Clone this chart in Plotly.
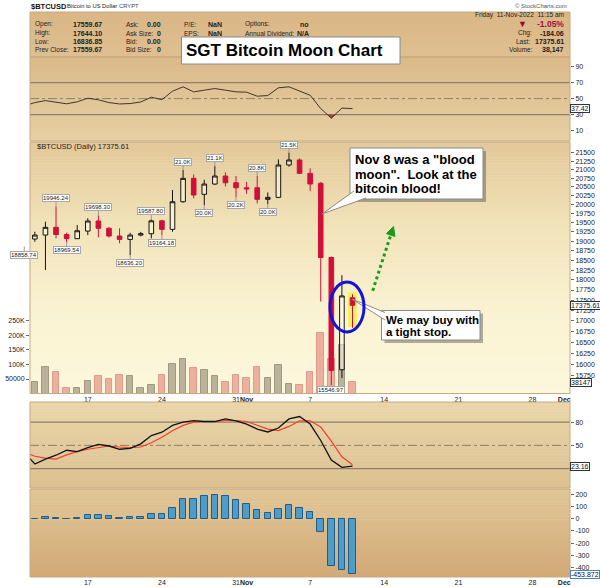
import math
from datetime import datetime, timedelta
import plotly.graph_objects as go

W, H = 600, 587
PL, PR = 30, 570
FONT = "Liberation Sans, Arial, sans-serif"

# ---------------- data ----------------
dates = ["2022-10-11", "2022-10-12", "2022-10-13", "2022-10-14", "2022-10-15", "2022-10-16",
         "2022-10-17", "2022-10-18", "2022-10-19", "2022-10-20", "2022-10-21", "2022-10-22",
         "2022-10-23", "2022-10-24", "2022-10-25", "2022-10-26", "2022-10-27", "2022-10-28",
         "2022-10-29", "2022-10-30", "2022-10-31", "2022-11-01", "2022-11-02", "2022-11-03",
         "2022-11-04", "2022-11-05", "2022-11-06", "2022-11-07", "2022-11-08", "2022-11-09",
         "2022-11-10", "2022-11-11"]
opens = [19130, 19060, 19165, 19373, 19180, 19068, 19272, 19545, 19346, 19140, 19050, 19165,
         19200, 19550, 19319, 20078, 20744, 20287, 20580, 20812, 20618, 20474, 20474, 20145,
         20200, 21134, 21283, 20890, 20601, 18575, 15880, 17559.67]
highs = [19260, 19254, 19525, 19946.24, 19227, 19435, 19620, 19698.30, 19380, 19346, 19227, 19250,
         19587.80, 19580, 20409, 20986, 20856, 20704, 21101, 20918, 20812, 20640, 20820, 20340,
         21300, 21500, 21330, 21034, 20640, 18600, 18123, 17644.10]
lows = [18858.74, 18987, 18251, 19077, 18969.54, 19060, 19165, 19104, 19100, 18945, 18636.20, 19130,
        19077, 19164.18, 19254, 20050, 20173, 19980, 20550, 20510, 20200, 20300, 20030, 20010,
        20180, 21085, 20870, 20380, 17467, 15546.97, 15700, 16836.85]
closes = [19060, 19165, 19373, 19180, 19068, 19281, 19545, 19346, 19140, 19050, 19165, 19201,
          19550, 19319, 20078, 20744, 20267, 20580, 20812, 20618, 20474, 20440, 20145, 20200,
          21134, 21283, 20890, 20580, 18575, 15863, 17604, 17375.61]
volumes = [45000, 38000, 90000, 75000, 18000, 18000, 42000, 61000, 50000, 65000, 62000, 18000,
           31000, 65000, 103000, 118000, 87000, 80000, 60000, 40000, 63000, 52000, 92000, 55000,
           98000, 33000, 30000, 75000, 209000, 120000, 167000, 38147]
rsi = [41, 45, 47.5, 45.5, 43.5, 46, 50.5, 48.5, 45, 43.3, 43.8, 45.8,
       51.7, 48.7, 59.3, 64.7, 58.4, 60.5, 62.6, 60.5, 58.4, 58, 53, 53.8,
       63.5, 64.7, 59.5, 54.2, 37.5, 25.6, 38.2, 37.42]
stoch_k = [41, 26, 32.3, 37.3, 43.7, 42, 47, 51.3, 49.2, 45, 46.2, 52,
           62.7, 67, 75.8, 80, 82, 80.8, 80.8, 84.2, 81.7, 77.5, 71, 67.3,
           72.4, 84.2, 87.2, 77.5, 56.3, 31, 21.7, 23.16]
stoch_d = [41, 36, 33.5, 32.3, 37.7, 42, 45, 47, 49.2, 47.9, 47, 47.9,
           53.4, 60.6, 69, 75.8, 80, 80.8, 80.8, 82.1, 82.1, 80.8, 75.8, 71,
           69, 74.5, 81.7, 81.7, 73.7, 55.5, 35.2, 25]
macd_hist = [-5, -3, 10, 5, -5, 3, 29, 29, 18, 3, 10, 16,
             42, 40, 87, 159, 161, 183, 196, 183, 153, 122, 74, 48,
             82, 111, 90, 58, -108, -385, -420, -453.872]

x_tickvals = ["2022-10-17", "2022-10-24", "2022-10-31", "2022-11-01", "2022-11-07",
              "2022-11-14", "2022-11-21", "2022-11-28", "2022-12-01"]
x_ticktext = ["17", "24", "31", "<b>Nov</b>", "7", "14", "21", "28", "<b>Dec</b>"]
price_ticks = list(range(15750, 21501, 250))
vol_ticks = [50000, 100000, 150000, 200000, 250000]
vol_ticktext = ["50000", "100K", "150K", "200K", "250K"]
rsi_ticks = [10, 30, 50, 70, 90]
stoch_ticks = [50, 80]
macd_ticks = [-400, -300, -200, -100, 0, 100, 200]
macd_ticktext = ["-400", "-300", "-200", "-100", "0", "100", "200"]

# high / low labels: (date, kind, text)
hl_labels = [("2022-10-11", "low", "18858.74"), ("2022-10-14", "high", "19946.24"),
             ("2022-10-15", "low", "18969.54"), ("2022-10-18", "high", "19698.30"),
             ("2022-10-21", "low", "18636.20"), ("2022-10-23", "high", "19587.80"),
             ("2022-10-24", "low", "19164.18"), ("2022-10-26", "high", "21.0K"),
             ("2022-10-28", "low", "20.0K"), ("2022-10-29", "high", "21.1K"),
             ("2022-10-31", "low", "20.2K"), ("2022-11-02", "high", "20.8K"),
             ("2022-11-03", "low", "20.0K"), ("2022-11-05", "high", "21.5K"),
             ("2022-11-09", "low", "15546.97")]

X_RANGE = ["2022-10-11 13:00", "2022-12-01 13:00"]
PRICE_RANGE = [15362, 21824]
VOL_MAX = 867000
RSI_RANGE = [-3, 102]
STOCH_RANGE = [-5, 106]
MACD_RANGE = [-478, 243]

# panels (pixel top, bottom)
HEADER = (12, 57)
RSI_P = (57, 141)
MAIN = (142, 393.5)
STO = (402, 488)
MACD_P = (489, 577)

NB = "\u00a0"

# ---------------- helpers ----------------
def X(p):
    return (p - PL) / (PR - PL)

def Y(p):
    return 1 - p / H

def dom(panel):
    return [Y(panel[1]), Y(panel[0])]

def hex2rgb(h):
    h = h.lstrip('#')
    return tuple(int(h[i:i + 2], 16) for i in (0, 2, 4))

def color_at(stops, t):
    for (p0, c0), (p1, c1) in zip(stops, stops[1:]):
        if t <= p1:
            f = (t - p0) / (p1 - p0) if p1 > p0 else 0
            a, b = hex2rgb(c0), hex2rgb(c1)
            return 'rgb(%d,%d,%d)' % tuple(round(a[i] + (b[i] - a[i]) * f) for i in range(3))
    return stops[-1][1]

shapes = []
annotations = []

def gradient(panel, stops):
    top, bot = panel
    n = max(8, int((bot - top) / 3))
    for i in range(n):
        y0 = top + (bot - top) * i / n
        y1 = top + (bot - top) * (i + 1) / n
        shapes.append(dict(type='rect', xref='paper', yref='paper', x0=0, x1=1,
                           y0=Y(min(bot, y1 + 0.5)), y1=Y(y0),
                           fillcolor=color_at(stops, (i + 0.5) / n),
                           line=dict(width=0), layer='below'))

def outline(panel, color='#c6a97e'):
    shapes.append(dict(type='rect', xref='paper', yref='paper', x0=0, x1=1,
                       y0=Y(panel[1]), y1=Y(panel[0]), line=dict(color=color, width=1),
                       fillcolor='rgba(0,0,0,0)', layer='above'))

def txt(x, y, s, size=6.5, bold=False, color='#222', anchor='left'):
    annotations.append(dict(xref='paper', yref='paper', x=X(x), y=Y(y),
                            text=('<b>%s</b>' % s) if bold else s, showarrow=False,
                            xanchor=anchor, yanchor='middle',
                            font=dict(family=FONT, size=size, color=color)))

dts = [datetime.strptime(d, "%Y-%m-%d") for d in dates]
r0 = datetime.strptime(X_RANGE[0], "%Y-%m-%d %H:%M")
r1 = datetime.strptime(X_RANGE[1], "%Y-%m-%d %H:%M")

def date_paper(d):
    return (d - r0).total_seconds() / (r1 - r0).total_seconds()

# ---------------- backgrounds ----------------
gradient(HEADER, [(0, '#dab686'), (1, '#dfbf90')])
gradient(RSI_P, [(0, '#dbb989'), (1, '#e6d0a3')])
gradient(MAIN, [(0, '#e3c898'), (0.35, '#f2e4bb'), (0.7, '#faf3d3'), (1, '#fcf8dc')])
gradient(STO, [(0, '#ead6aa'), (1, '#dcc090')])
gradient(MACD_P, [(0, '#e1c696'), (1, '#d2a977')])

# yellow highlight behind last candle
shapes.append(dict(type='rect', xref='paper', yref='paper', x0=X(348), x1=X(357),
                   y0=Y(327), y1=Y(292), fillcolor='#f7f064', line=dict(width=0), layer='below'))

# reference lines
LINE_C = '#8d7f6c'
for lv in (30, 70):
    shapes.append(dict(type='line', xref='x domain', yref='y', x0=0, x1=1, y0=lv, y1=lv,
                       line=dict(color=LINE_C, width=1.3), layer='below'))
shapes.append(dict(type='line', xref='x domain', yref='y', x0=0, x1=1, y0=50, y1=50,
                   line=dict(color=LINE_C, width=1, dash='dashdot'), layer='below'))
for lv in (20, 80):
    shapes.append(dict(type='line', xref='x3 domain', yref='y4', x0=0, x1=1, y0=lv, y1=lv,
                       line=dict(color=LINE_C, width=1.3), layer='below'))
shapes.append(dict(type='line', xref='x3 domain', yref='y4', x0=0, x1=1, y0=50, y1=50,
                   line=dict(color=LINE_C, width=1, dash='dashdot'), layer='below'))

for p in (HEADER, RSI_P, MAIN, STO, MACD_P):
    outline(p)

# ---------------- traces ----------------
fig = go.Figure()

# RSI
fig.add_trace(go.Scatter(x=dates, y=rsi, mode='lines', xaxis='x', yaxis='y',
                         line=dict(color='#3d3630', width=1), hoverinfo='skip'))
poly = []
for i in range(len(rsi) - 1):
    a, b = rsi[i], rsi[i + 1]
    if a < 30:
        poly.append((dts[i], a))
    if (a - 30) * (b - 30) < 0:
        f = (30 - a) / (b - a)
        poly.append((dts[i] + (dts[i + 1] - dts[i]) * f, 30))
if rsi[-1] < 30:
    poly.append((dts[-1], rsi[-1]))
if poly:
    fig.add_trace(go.Scatter(x=[p[0] for p in poly], y=[p[1] for p in poly], mode='lines',
                             fill='toself', fillcolor='#9a4b3a', xaxis='x', yaxis='y',
                             line=dict(color='#5a3028', width=1), hoverinfo='skip'))

# volume
up = [c >= o for o, c in zip(opens, closes)]
fig.add_trace(go.Bar(x=dates, y=volumes, xaxis='x2', yaxis='y2',
                     width=0.62 * 86400000,
                     marker=dict(color=['#b3ab93' if u else '#eaa898' for u in up],
                                 line=dict(color=['#968e78' if u else '#df8f84' for u in up], width=1)),
                     opacity=0.9, hoverinfo='skip'))

# candles
fig.add_trace(go.Candlestick(x=dates, open=opens, high=highs, low=lows, close=closes,
                             xaxis='x2', yaxis='y3', whiskerwidth=0,
                             increasing=dict(line=dict(color='#151515', width=1),
                                             fillcolor='rgba(255,252,232,0.55)'),
                             decreasing=dict(line=dict(color='#d0103a', width=1),
                                             fillcolor='#d0103a'),
                             hoverinfo='skip'))

# stochastics
fig.add_trace(go.Scatter(x=dates, y=stoch_d, mode='lines', xaxis='x3', yaxis='y4',
                         line=dict(color='#f0402e', width=1.2), hoverinfo='skip'))
fig.add_trace(go.Scatter(x=dates, y=stoch_k, mode='lines', xaxis='x3', yaxis='y4',
                         line=dict(color='#111111', width=1.3), hoverinfo='skip'))

# MACD histogram
fig.add_trace(go.Bar(x=dates, y=macd_hist, xaxis='x4', yaxis='y5', width=0.62 * 86400000,
                     marker=dict(color='#4f9cc8', line=dict(color='#1d5e8a', width=1)),
                     hoverinfo='skip'))

# ---------------- annotations ----------------
# header line
txt(29, 6, '$BTCUSD', size=7.5, bold=True, color='#111')
txt(65, 6, 'Bitcoin to US Dollar', size=5.8, color='#222')
txt(117, 6, 'CRYPT', size=5.8, color='#444')
txt(569, 6, '© StockCharts.com', size=6, color='#555', anchor='right')

rows = [24, 33, 41.5, 50]
for lab, val, y in zip(['Open:', 'High:', 'Low:', 'Prev' + NB + 'Close:'],
                       ['17559.67', '17644.10', '16836.85', '17559.67'], rows):
    txt(33, y, lab)
    txt(71, y, val, size=7, bold=True)
for lab, val, vx, y in zip(['Ask:', 'Ask' + NB + 'Size:', 'Bid:', 'Bid' + NB + 'Size:'],
                           ['0.00', '0', '0.00', '0'], [145, 155, 145, 155], rows):
    txt(124, y, lab)
    txt(vx, y, val, size=7, bold=True)
for lab, val, y in zip(['P/E:', 'EPS:'], ['NaN', 'NaN'], rows[:2]):
    txt(182, y, lab)
    txt(206, y, val, size=7, bold=True)
txt(243, rows[0], 'Options:')
txt(298, rows[0], 'no', size=7, bold=True)
txt(243, rows[1], 'Annual' + NB + 'Dividend:')
txt(295, rows[1], 'N/A', size=7, bold=True)

txt(566, 15, 'Friday' + NB * 2 + '11-Nov-2022' + NB * 2 + '11:15 am', size=6.5, anchor='right')
txt(522, 24, '▼', size=9, color='#8c0a2a', anchor='center')
txt(566, 24, '-1.05%', size=8.5, bold=True, color='#a0103a', anchor='right')
txt(516, 33, 'Chg:')
txt(566, 33, '-184.06', size=7, bold=True, anchor='right')
txt(514, 41.5, 'Last:')
txt(566, 41.5, '17375.61', size=7, bold=True, anchor='right')
txt(507, 50, 'Volume:')
txt(566, 50, '38,147', size=7, bold=True, anchor='right')

# main panel title
txt(35, 147, '$BTCUSD (Daily) 17375.61', size=7.5, color='#222')

# high / low labels
for d, kind, text in hl_labels:
    i = dates.index(d)
    val = highs[i] if kind == 'high' else lows[i]
    xd = datetime.strptime(d, "%Y-%m-%d")
    off = -8 if kind == 'high' else 8
    if d == "2022-11-09":
        off = 5
    ann = dict(y=math.log10(val), yref='y3', text=text, showarrow=True, arrowhead=0,
               arrowwidth=1, arrowcolor='#9a9a9a', ax=0, ay=off, standoff=0,
               font=dict(family=FONT, size=6, color='#222'), bgcolor='white',
               bordercolor='#a8a8a8', borderwidth=1, borderpad=0)
    if xd < r0:
        ann.update(xref='paper', x=date_paper(xd))
    else:
        ann.update(xref='x2', x=d)
    annotations.append(ann)

# value boxes on right axis
def value_box(yref, y, text, border='#333'):
    annotations.append(dict(xref='paper', x=1.0, xanchor='left', yref=yref, y=y, text=text,
                            showarrow=False, font=dict(family=FONT, size=7, color='#111'),
                            bgcolor='white', bordercolor=border, borderwidth=1, borderpad=0))

value_box('y', rsi[-1], '37.42')
value_box('y3', math.log10(closes[-1]), '17375.61')
value_box('y2', volumes[-1], '38147')
value_box('y4', stoch_k[-1], '23.16')
value_box('y5', macd_hist[-1], '-453.872', border='#4a86b4')

# title box
shapes.append(dict(type='rect', xref='paper', yref='paper', x0=X(181.5), x1=X(400),
                   y0=Y(64), y1=Y(37), fillcolor='white', line=dict(color='#8a8a8a', width=1),
                   layer='above'))
txt(184, 51, 'SGT Bitcoin Moon Chart', size=17, bold=True, color='#000')

# callout boxes
def callout(x0, y0, x1, y1, tail):
    shapes.append(dict(type='rect', xref='paper', yref='paper', x0=X(x0 + 3), x1=X(x1 + 3),
                       y0=Y(y1 + 3), y1=Y(y0 + 3), fillcolor='rgba(80,80,80,0.45)',
                       line=dict(width=0), layer='above'))
    shapes.append(dict(type='rect', xref='paper', yref='paper', x0=X(x0), x1=X(x1),
                       y0=Y(y1), y1=Y(y0), fillcolor='white',
                       line=dict(color='#8a8a8a', width=1), layer='above'))
    (ax_, ay_), (tx, ty), (bx, by) = tail
    path = 'M %f,%f L %f,%f L %f,%f' % (X(ax_), Y(ay_), X(tx), Y(ty), X(bx), Y(by))
    shapes.append(dict(type='path', xref='paper', yref='paper', path=path, fillcolor='white',
                       line=dict(color='#8a8a8a', width=1), layer='above'))

callout(350, 148, 483, 199, [(354, 191), (322, 214), (366, 198)])
txt(353, 159.5, 'Nov 8 was a "blood', size=13, bold=True, color='#000')
txt(353, 174, 'moon".' + NB + ' Look at the', size=13, bold=True, color='#000')
txt(353, 188.5, 'bitcoin blood!', size=13, bold=True, color='#000')

callout(381.5, 310.5, 480, 340, [(385, 312.5), (352, 299), (385, 320)])
txt(384, 319.5, 'We may buy with', size=11.5, bold=True, color='#000')
txt(384, 331.5, 'a tight stop.', size=11.5, bold=True, color='#000')

# blue ellipse
shapes.append(dict(type='circle', xref='paper', yref='paper', x0=X(330), x1=X(364),
                   y0=Y(332), y1=Y(282), line=dict(color='#1414d2', width=3),
                   fillcolor='rgba(0,0,0,0)', layer='above'))

# green dotted arrow
tail_pt = (372.7, 290.7)
head_pt = (393.5, 226.5)
dx, dy = head_pt[0] - tail_pt[0], head_pt[1] - tail_pt[1]
ln = math.hypot(dx, dy)
ux, uy = dx / ln, dy / ln
base = (head_pt[0] - ux * 9, head_pt[1] - uy * 9)
px_, py_ = -uy, ux
shapes.append(dict(type='line', xref='paper', yref='paper', x0=X(tail_pt[0]), y0=Y(tail_pt[1]),
                   x1=X(base[0]), y1=Y(base[1]),
                   line=dict(color='#1c9a1c', width=3, dash='dot'), layer='above'))
tri = 'M %f,%f L %f,%f L %f,%f Z' % (X(head_pt[0]), Y(head_pt[1]),
                                     X(base[0] + px_ * 4.5), Y(base[1] + py_ * 4.5),
                                     X(base[0] - px_ * 4.5), Y(base[1] - py_ * 4.5))
shapes.append(dict(type='path', xref='paper', yref='paper', path=tri, fillcolor='#1c9a1c',
                   line=dict(color='#1c9a1c', width=1), layer='above'))

# ---------------- layout ----------------
tickfont = dict(family=FONT, size=7, color='#222')
common_x = dict(type='date', range=X_RANGE, domain=[0, 1], showgrid=False, zeroline=False,
                showline=False, fixedrange=True, tickangle=0)
common_y = dict(showgrid=False, zeroline=False, showline=False, ticks='outside', ticklen=3,
                tickcolor='#666', tickfont=tickfont, fixedrange=True)

fig.update_layout(
    width=W, height=H,
    margin=dict(l=PL, r=W - PR, t=0, b=0),
    paper_bgcolor='white', plot_bgcolor='rgba(0,0,0,0)',
    showlegend=False, hovermode=False, boxgap=0.38, bargap=0,
    font=dict(family=FONT, size=8, color='#222'),
    xaxis=dict(common_x, anchor='y', showticklabels=False),
    xaxis2=dict(common_x, anchor='y2', tickvals=x_tickvals, ticktext=x_ticktext,
                tickfont=tickfont, ticks='', rangeslider=dict(visible=False)),
    xaxis3=dict(common_x, anchor='y4', showticklabels=False),
    xaxis4=dict(common_x, anchor='y5', tickvals=x_tickvals, ticktext=x_ticktext,
                tickfont=tickfont, ticks=''),
    yaxis=dict(common_y, domain=dom(RSI_P), range=RSI_RANGE, side='right', anchor='x',
               tickvals=rsi_ticks),
    yaxis2=dict(common_y, domain=dom(MAIN), range=[0, VOL_MAX], side='left', anchor='x2',
                tickvals=vol_ticks, ticktext=vol_ticktext),
    yaxis3=dict(common_y, overlaying='y2', type='log', side='right', anchor='x2',
                range=[math.log10(PRICE_RANGE[0]), math.log10(PRICE_RANGE[1])],
                tickvals=price_ticks, ticktext=[str(t) for t in price_ticks]),
    yaxis4=dict(common_y, domain=dom(STO), range=STOCH_RANGE, side='right', anchor='x3',
                tickvals=stoch_ticks),
    yaxis5=dict(common_y, domain=dom(MACD_P), range=MACD_RANGE, side='right', anchor='x4',
                tickvals=macd_ticks, ticktext=macd_ticktext),
    shapes=shapes,
    annotations=annotations,
)

fig.write_html("out.html", config={'displayModeBar': False},
               post_script="document.body.style.margin='0';document.body.style.overflow='hidden';")
